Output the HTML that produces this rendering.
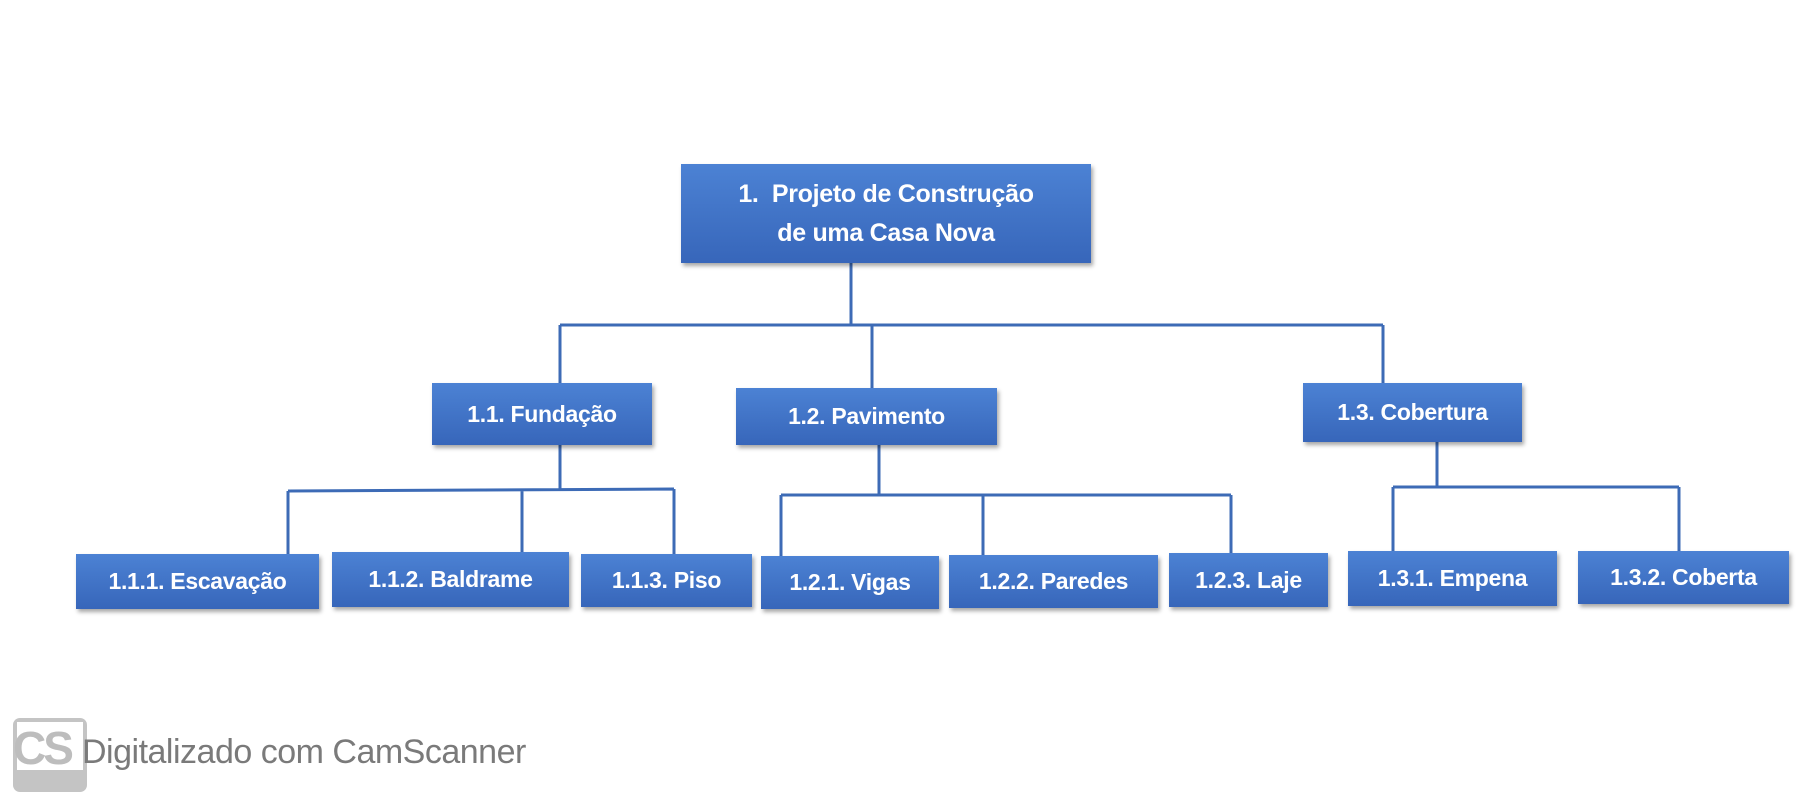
<!DOCTYPE html>
<html><head><meta charset="utf-8"><style>
body{margin:0;width:1800px;height:804px;background:#fff;position:relative;overflow:hidden;font-family:"Liberation Sans",sans-serif}
.b{position:absolute;background:linear-gradient(#4c82d4,#3766ba);color:#fff;font-weight:bold;display:flex;align-items:center;justify-content:center;text-align:center;box-shadow:2px 3px 4px rgba(0,0,0,0.35);font-size:23px;letter-spacing:-0.3px}
</style></head><body>
<svg width="1800" height="804" style="position:absolute;left:0;top:0">
<g stroke="#3d6bb6" stroke-width="3" fill="none">
<path d="M851 263V325M560 325H1383M560 325V383M872 325V388M1383 325V383"/>
<path d="M560 445V490M288 491L674 489M288 491V554M522 490V552M674 489V554"/>
<path d="M879 445V495M781 495H1231M781 495V556M983 495V555M1231 495V553"/>
<path d="M1437 442V487M1393 487H1679M1393 487V551M1679 487V551"/>
</g>
</svg>
<div class="b" style="left:681px;top:164px;width:410px;height:99px;font-size:25px;line-height:39px">1.&nbsp; Projeto de Construção<br>de uma Casa Nova</div>
<div class="b" style="left:432px;top:383px;width:220px;height:62px">1.1. Fundação</div>
<div class="b" style="left:736px;top:388px;width:261px;height:57px">1.2. Pavimento</div>
<div class="b" style="left:1303px;top:383px;width:219px;height:59px">1.3. Cobertura</div>
<div class="b" style="left:76px;top:554px;width:243px;height:55px">1.1.1. Escavação</div>
<div class="b" style="left:332px;top:552px;width:237px;height:55px">1.1.2. Baldrame</div>
<div class="b" style="left:581px;top:554px;width:171px;height:53px">1.1.3. Piso</div>
<div class="b" style="left:761px;top:556px;width:178px;height:53px">1.2.1. Vigas</div>
<div class="b" style="left:949px;top:555px;width:209px;height:53px">1.2.2. Paredes</div>
<div class="b" style="left:1169px;top:553px;width:159px;height:54px">1.2.3. Laje</div>
<div class="b" style="left:1348px;top:551px;width:209px;height:55px">1.3.1. Empena</div>
<div class="b" style="left:1578px;top:551px;width:211px;height:53px">1.3.2. Coberta</div>
<div style="position:absolute;left:13px;top:718px;width:74px;height:74px;background:#c4c4c4;border-radius:7px"></div>
<div style="position:absolute;left:17px;top:722px;width:66px;height:48px;background:#fff"></div>
<div style="position:absolute;left:13px;top:722px;font-size:46px;font-weight:bold;color:#bdbdbd;letter-spacing:-3px;line-height:52px">CS</div>
<div style="position:absolute;left:82px;top:733px;font-size:34px;color:#7a7a7a;letter-spacing:-0.5px">Digitalizado com CamScanner</div>
</body></html>
